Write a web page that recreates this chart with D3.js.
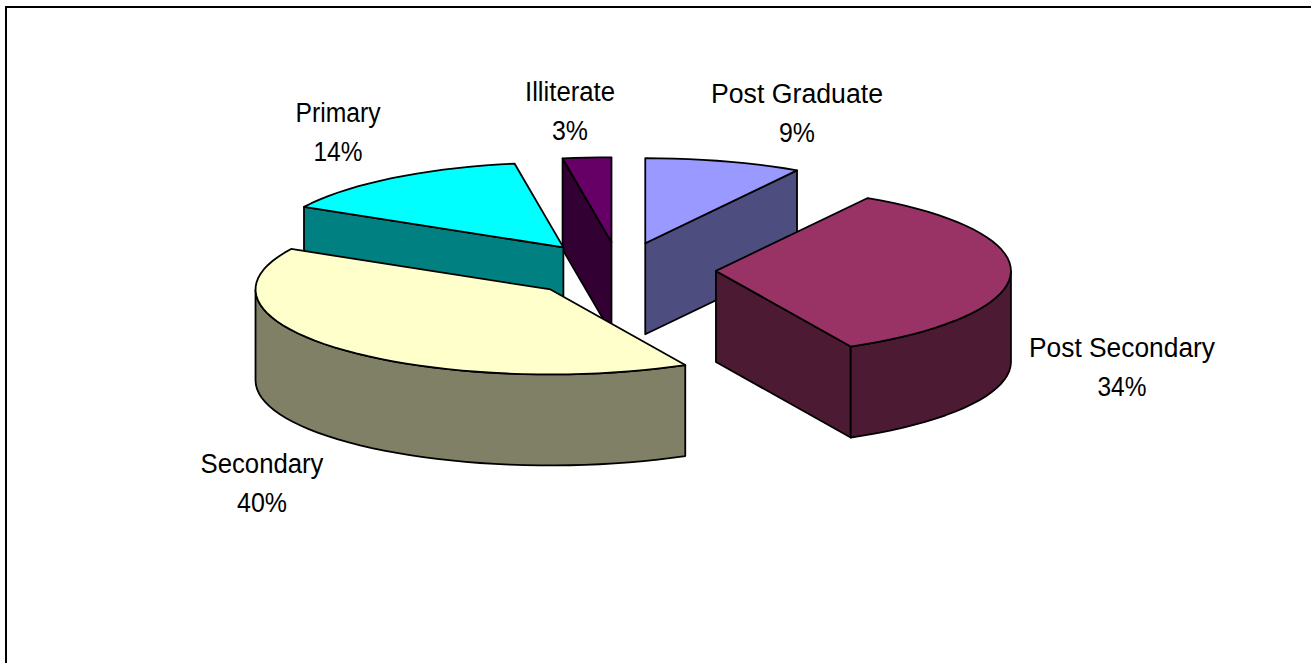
<!DOCTYPE html>
<html>
<head>
<meta charset="utf-8">
<script src="https://cdn.jsdelivr.net/npm/d3@7"></script>
<style>
html,body{margin:0;padding:0;background:#fff;overflow:hidden}
svg{display:block}
text{font-family:"Liberation Sans",Arial,sans-serif;font-size:27px;fill:#000;text-anchor:middle}
</style>
</head>
<body>
<svg id="chart" width="1311" height="663"></svg>
<script>
// Category order runs clockwise from 12 o'clock.
const categories = ["Post Graduate", "Post Secondary", "Secondary", "Primary", "Illiterate"];
const shares = [8.6, 33.85, 40.45, 14.45, 2.65];
const percentLabels = ["9%", "34%", "40%", "14%", "3%"];
const topColors = ["#9999FF", "#993366", "#FFFFCC", "#00FFFF", "#660066"];
const sideColors = ["#4D4D80", "#4D1A33", "#808066", "#008080", "#330033"];
const labelX = [797, 1122, 262, 338, 570];
const labelY = [103, 357, 473, 122, 101];
const nameWidths = [172, 186, 123, 85, 90];
const percentWidths = [36, 49, 50, 49, 36];

const W = 1311, H = 663;
const cx = 619.5, cy = 270, rx = 295, ry = 85, depth = 91, explode = 96.5 / 295;

const svg = d3.select("#chart");
svg.append("path").attr("d", `M6 ${H}V7H${W}`).attr("fill", "none").attr("stroke", "#000").attr("stroke-width", 2);

const px = d3.scaleLinear().domain([-1, 1]).range([cx - rx, cx + rx]);
const py = d3.scaleLinear().domain([-1, 1]).range([cy - ry, cy + ry]);
const line = d3.line();

const arcs = d3.pie().sort(null).startAngle(0).endAngle(2 * Math.PI)(shares);
const slices = arcs.map((a, i) => {
  const mid = (a.startAngle + a.endAngle) / 2;
  return { a, i, ox: explode * Math.sin(mid), oy: -explode * Math.cos(mid) };
});

const apex = s => [px(s.ox), py(s.oy)];
const rim = (s, t) => [px(s.ox + Math.sin(t)), py(s.oy - Math.cos(t))];
const down = p => [p[0], p[1] + depth];
const arcPoints = (s, t0, t1) => {
  const n = Math.max(1, Math.ceil((t1 - t0) / (Math.PI / 60)));
  return d3.range(n + 1).map(k => rim(s, t0 + (t1 - t0) * k / n));
};

// Painter's order: back slices (smaller apex y) first.
const order = slices.slice().sort((p, q) => d3.ascending(py(p.oy), py(q.oy)));
order.forEach(s => {
  const { startAngle: t0, endAngle: t1 } = s.a;
  const g = svg.append("g");
  const side = pts => g.append("path").attr("d", line(pts) + "Z")
    .attr("fill", sideColors[s.i]).attr("stroke", "#000").attr("stroke-width", 1.8).attr("stroke-linejoin", "round");
  const A = apex(s);
  if (Math.sin(t0) < -1e-6) { const R = rim(s, t0); side([A, R, down(R), down(A)]); }
  if (Math.sin(t1) > 1e-6) { const R = rim(s, t1); side([A, R, down(R), down(A)]); }
  const w0 = Math.max(t0, Math.PI / 2), w1 = Math.min(t1, 3 * Math.PI / 2);
  if (w1 > w0) {
    const top = arcPoints(s, w0, w1);
    side(top.concat(top.slice().reverse().map(down)));
  }
  g.append("path").attr("d", line([A].concat(arcPoints(s, t0, t1))) + "Z")
    .attr("fill", topColors[s.i]).attr("stroke", "#000").attr("stroke-width", 1.8).attr("stroke-linejoin", "round");
});

categories.forEach((c, i) => {
  svg.append("text").attr("x", labelX[i]).attr("y", labelY[i])
    .attr("textLength", nameWidths[i]).attr("lengthAdjust", "spacingAndGlyphs").text(c);
  svg.append("text").attr("x", labelX[i]).attr("y", labelY[i] + 39)
    .attr("textLength", percentWidths[i]).attr("lengthAdjust", "spacingAndGlyphs").text(percentLabels[i]);
});
</script>
</body>
</html>
